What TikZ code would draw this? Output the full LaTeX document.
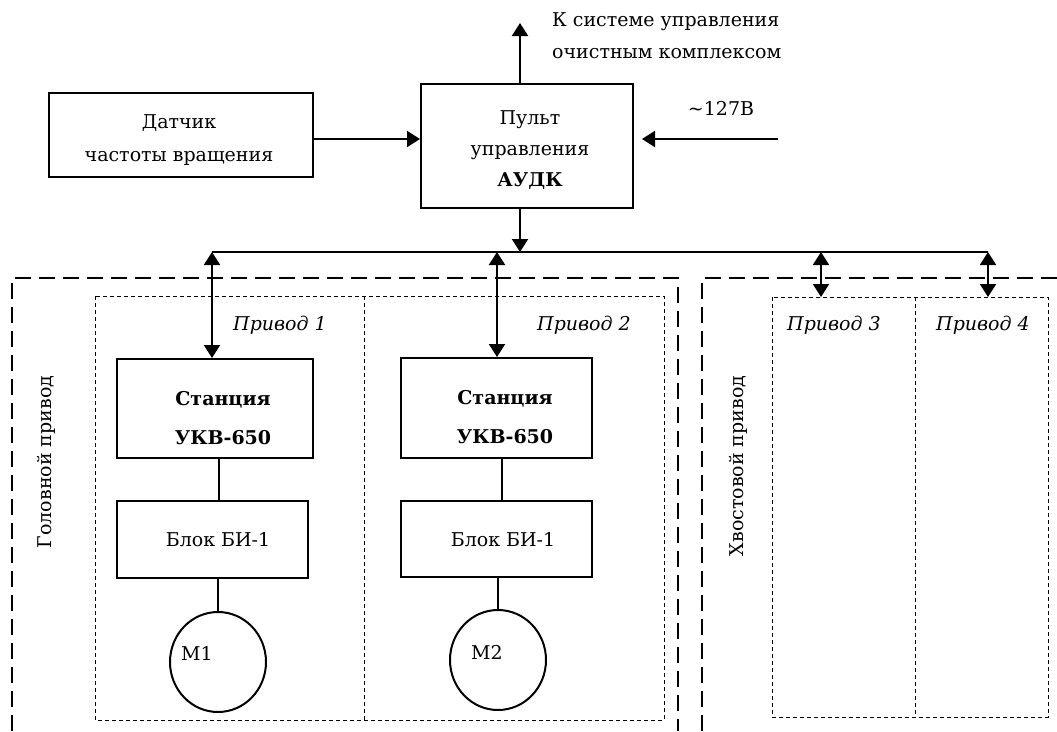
\documentclass[tikz,border=0pt]{standalone}
\usepackage{fontspec}
\setmainfont{DejaVu Serif}
\usetikzlibrary{arrows.meta,shapes.geometric}
\begin{document}
\begin{tikzpicture}[x=1pt,y=-1pt,
  box/.style={draw, line width=2pt, inner sep=0pt, align=center},
  conn/.style={line width=2pt},
  arr/.style={conn, -{Triangle[length=13pt,width=16pt]}},
  darr/.style={conn, {Triangle[length=13pt,width=16pt]}-{Triangle[length=13pt,width=16pt]}},
  bigdash/.style={line width=2.2pt, dash pattern=on 16pt off 8pt},
  smalldash/.style={line width=1pt, dash pattern=on 4pt off 3pt},
  txt/.style={font=\fontsize{19}{23}\selectfont, align=center, inner sep=0pt},
  ital/.style={font=\fontsize{19}{23}\selectfont\itshape, inner sep=0pt},
  motor/.style={draw, ellipse, line width=2pt, minimum width=96pt, minimum height=100pt, inner sep=0pt}
]
\useasboundingbox (0,0) rectangle (1057,731);

% dashed groups
\draw[bigdash] (12,731) -- (12,278) -- (678,278) -- (678,731);
\draw[bigdash] (702,731) -- (702,278) -- (1057,278);
\draw[smalldash] (95,296) rectangle (664,720);
\draw[smalldash] (364,296) -- (364,720);
\draw[smalldash] (772,297) rectangle (1048,717);
\draw[smalldash] (915,297) -- (915,717);

% top blocks
\node[box, minimum width=264pt, minimum height=84pt] (dat) at (181,135) {};
\node[txt, font=\fontsize{19}{33}\selectfont] (datT) at (179,140) {Датчик\\частоты вращения};
\node[box, minimum width=212pt, minimum height=124pt] (pult) at (527,146) {};
\node[txt, font=\fontsize{19}{31}\selectfont] (pultT) at (530,150) {Пульт\\управления\\\textbf{АУДК}};

\node[txt, anchor=west] (sys1) at (552,22) {К системе управления};
\node[txt, anchor=west] (sys2) at (552,54) {очистным комплексом};
\node[txt] (v) at (721,108) {\textasciitilde127В};

% drive blocks
\node[box, minimum width=196pt, minimum height=99pt] (st1) at (215,408.5) {};
\node[txt, font=\fontsize{19}{39}\selectfont\bfseries] (st1T) at (223,418) {Станция\\УКВ-650};
\node[box, minimum width=191pt, minimum height=77pt] (bl1) at (212.5,539.5) {};
\node[txt] (bl1T) at (218,540) {Блок БИ-1};
\node[motor] (m1) at (218,662) {};
\node[txt] (m1T) at (197,653) {М1};

\node[box, minimum width=191pt, minimum height=100pt] (st2) at (496.5,408) {};
\node[txt, font=\fontsize{19}{39}\selectfont\bfseries] (st2T) at (505,417) {Станция\\УКВ-650};
\node[box, minimum width=191pt, minimum height=76pt] (bl2) at (496.5,539) {};
\node[txt] (bl2T) at (503,540) {Блок БИ-1};
\node[motor] (m2) at (498,660) {};
\node[txt] (m2T) at (487,652) {М2};

\node[ital] (p1) at (280,325) {Привод 1};
\node[ital] (p2) at (584,325) {Привод 2};
\node[ital] (p3) at (834,325) {Привод 3};
\node[ital] (p4) at (983,325) {Привод 4};

\node[txt, rotate=90] (head) at (46,462) {Головной привод};
\node[txt, rotate=90] (tail) at (738,466) {Хвостовой привод};

% coordinates
\coordinate (inY) at (0,139);
\coordinate (v127) at (778,139);
\coordinate (upT) at (520,23);
\coordinate (busL) at (212,252);
\coordinate (busR) at (988,252);
\coordinate (a2) at (497,252);
\coordinate (a3) at (821,252);
\coordinate (in2) at (0,297);

% connectors
\draw[arr] (dat.east |- inY) -- (pult.west |- inY);
\draw[arr] (v127) -- ([xshift=8pt]pult.east |- v127);
\draw[arr] (pult.north -| upT) -- (upT);
\draw[arr] (pult.south -| upT) -- (upT |- busL);
\draw[conn] (busL) -- (busR);
\draw[darr] (busL) -- (busL |- st1.north);
\draw[darr] (a2) -- (a2 |- st2.north);
\draw[darr] (a3) -- (a3 |- in2);
\draw[darr] (busR) -- (busR |- in2);

\draw[conn] (st1.south -| 219,0) -- (bl1.north -| 219,0);
\draw[conn] (bl1.south -| m1.north) -- (m1.north);
\draw[conn] (st2.south -| 502,0) -- (bl2.north -| 502,0);
\draw[conn] (bl2.south -| m2.north) -- (m2.north);
\end{tikzpicture}
\end{document}
